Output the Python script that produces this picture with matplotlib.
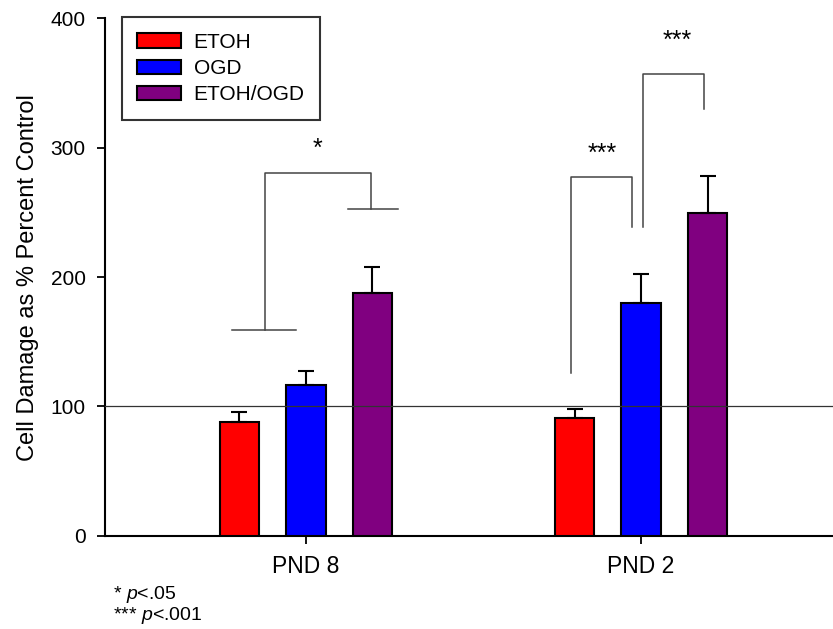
import numpy as np
import matplotlib.pyplot as plt

plt.rcParams['font.family'] = ['Liberation Sans', 'DejaVu Sans']
plt.rcParams['mathtext.fontset'] = 'custom'
plt.rcParams['mathtext.rm'] = 'Liberation Sans'
plt.rcParams['mathtext.it'] = 'Liberation Sans:italic'

# data
groups = ['PND 8', 'PND 2']
series = ['ETOH', 'OGD', 'ETOH/OGD']
colors = ['#ff0000', '#0000ff', '#800080']
means = {
    'ETOH': [88, 91],
    'OGD': [116.5, 180],
    'ETOH/OGD': [187.5, 249.5],
}
errs = {
    'ETOH': [7.5, 7],
    'OGD': [11, 22],
    'ETOH/OGD': [20, 28.5],
}

# significance brackets: (x_left, y_left_bottom, x_right, y_right_bottom, y_top, label, label_x, label_y)
brackets = [
    (0.878, 159, 1.193, 252.5, 280.5, '*', 1.033, 290),
    (1.790, 126, 1.972, 238.6, 277, '***', 1.884, 286),
    (2.006, 238.9, 2.189, 329.5, 356.7, '***', 2.107, 373),
]
# flat caps at bracket feet (x0, x1, y)
feet = [(0.779, 0.970, 159), (1.124, 1.274, 252.5)]

fig = plt.figure(figsize=(8.33, 6.29), dpi=100)
ax = fig.add_axes([0.126, 0.148, 0.874, 0.823])

x = np.arange(1, len(groups) + 1)
width = 0.119
offset = 0.1985

for i, s in enumerate(series):
    ax.bar(x + (i - 1) * offset, means[s], width, color=colors[i],
           edgecolor='black', linewidth=1.5, label=s, zorder=3)
    ax.errorbar(x + (i - 1) * offset, means[s], yerr=[[0] * len(groups), errs[s]],
                fmt='none', ecolor='black', elinewidth=1.5, capsize=6,
                capthick=1.5, zorder=3)

ax.axhline(100, color='#333333', linewidth=0.9, zorder=4)

for xl, yl, xr, yr, yt, lab, lx, ly in brackets:
    ax.plot([xl, xl, xr, xr], [yl, yt, yt, yr], color='#444444', lw=1.1, zorder=2)
    ax.text(lx, ly, lab, ha='center', va='bottom', fontsize=18)
for x0, x1, yy in feet:
    ax.plot([x0, x1], [yy, yy], color='#444444', lw=1.1, zorder=2)

ax.set_xlim(0.4, 2.573)
ax.set_ylim(0, 400)
ax.set_yticks([0, 100, 200, 300, 400])
ax.set_xticks(x)
ax.set_xticklabels(groups, fontsize=16.5)
ax.tick_params(axis='y', labelsize=15, direction='out', length=6, width=1.3, pad=8)
ax.tick_params(axis='x', direction='out', length=6, width=1.3, pad=8)
ax.spines['top'].set_visible(False)
ax.spines['right'].set_visible(False)
ax.spines['left'].set_linewidth(1.5)
ax.spines['bottom'].set_linewidth(1.5)
ax.set_ylabel('Cell Damage as % Percent Control', fontsize=17, labelpad=8)

leg = ax.legend(loc='upper left', bbox_to_anchor=(0.023, 1.002), fontsize=15,
                frameon=True, fancybox=False, edgecolor='black',
                handlelength=2.1, handleheight=0.7, borderpad=0.75,
                labelspacing=0.35, handletextpad=0.6, borderaxespad=0)
leg.get_frame().set_linewidth(1.5)

fig.text(0.136, 0.048, r'* $\mathit{p}$<.05', fontsize=14)
fig.text(0.136, 0.015, r'*** $\mathit{p}$<.001', fontsize=14)

fig.savefig('out.png', dpi=100)
